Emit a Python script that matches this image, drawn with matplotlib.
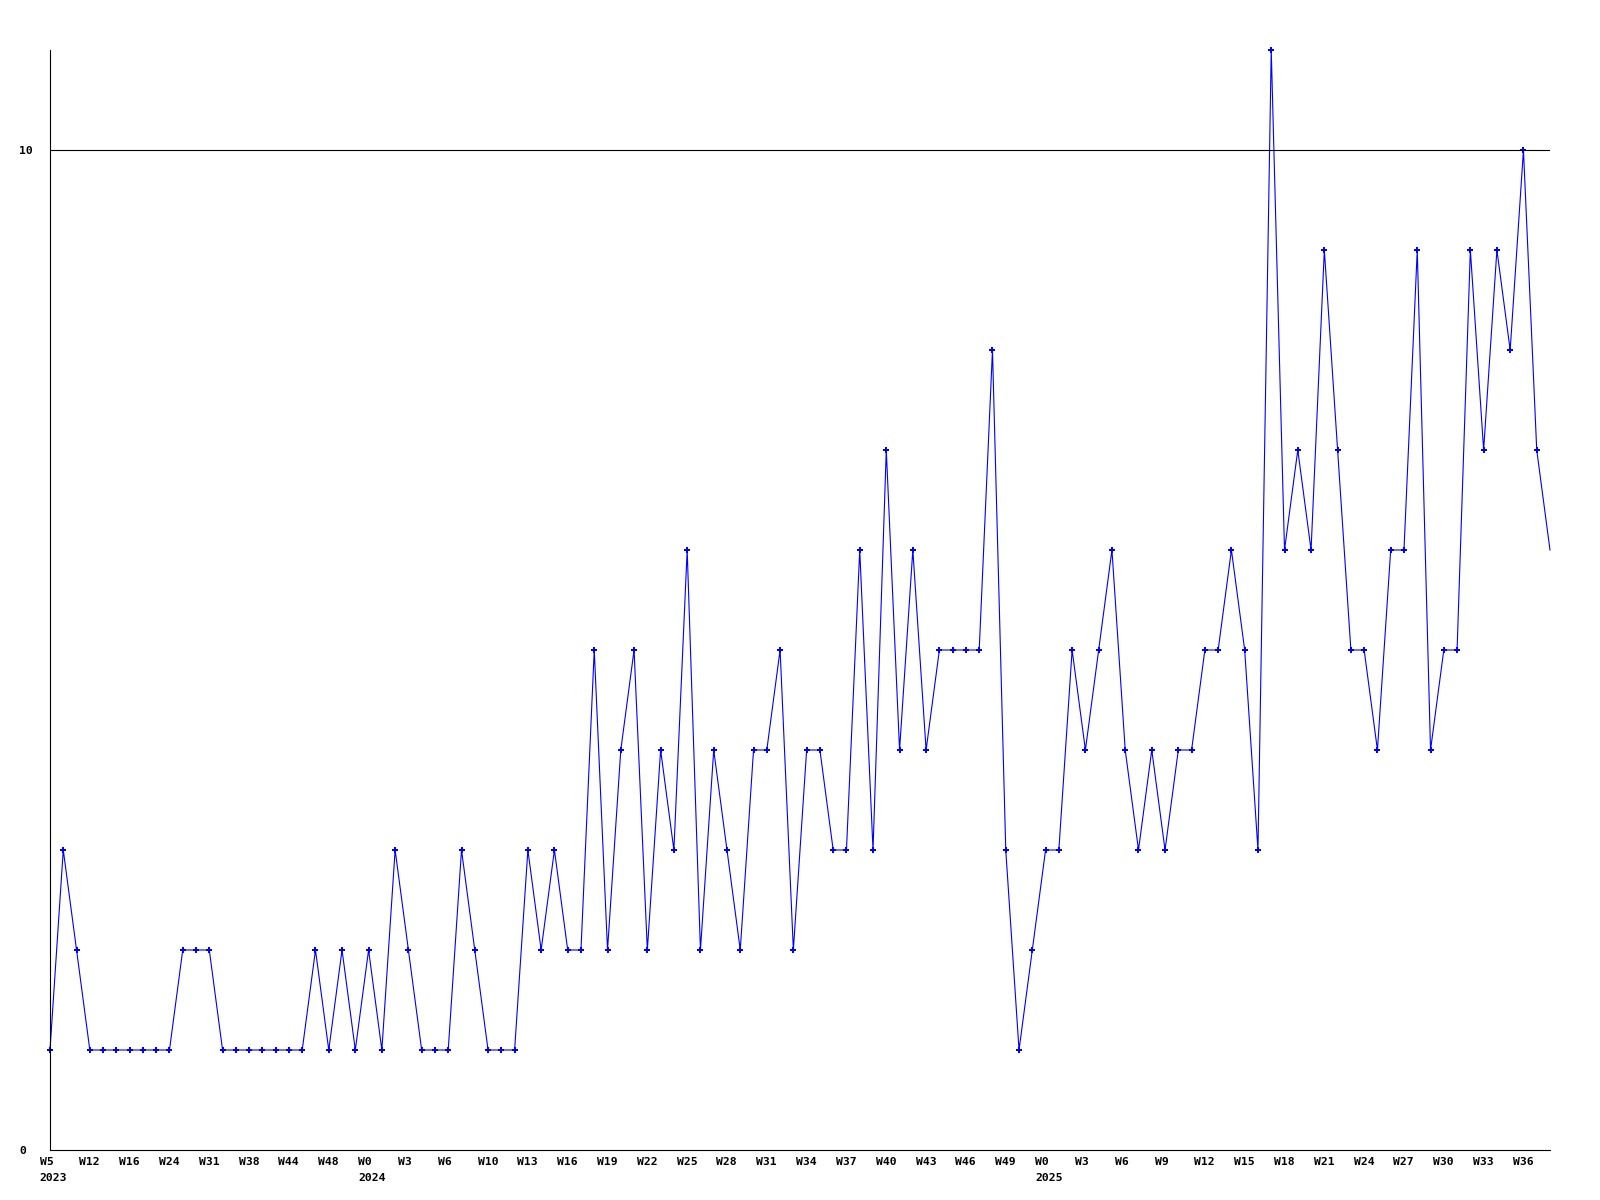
import numpy as np
import matplotlib
matplotlib.use("Agg")
import matplotlib.pyplot as plt
import matplotlib.transforms as mtransforms

values = [1, 3, 2, 1, 1, 1, 1, 1, 1, 1,
          2, 2, 2, 1, 1, 1, 1, 1, 1, 1,
          2, 1, 2, 1, 2, 1, 3, 2, 1, 1,
          1, 3, 2, 1, 1, 1, 3, 2, 3, 2,
          2, 5, 2, 4, 5, 2, 4, 3, 6, 2,
          4, 3, 2, 4, 4, 5, 2, 4, 4, 3,
          3, 6, 3, 7, 4, 6, 4, 5, 5, 5,
          5, 8, 3, 1, 2, 3, 3, 5, 4, 5,
          6, 4, 3, 4, 3, 4, 4, 5, 5, 6,
          5, 3, 11, 6, 7, 6, 9, 7, 5, 5,
          4, 6, 6, 9, 4, 5, 5, 9, 7, 9,
          8, 10, 7, 6]
week_labels = ["W5", "W12", "W16", "W24", "W31", "W38", "W44", "W48",
               "W0", "W3", "W6", "W10", "W13", "W16", "W19", "W22", "W25",
               "W28", "W31", "W34", "W37", "W40", "W43", "W46", "W49",
               "W0", "W3", "W6", "W9", "W12", "W15", "W18", "W21", "W24",
               "W27", "W30", "W33", "W36"]
years = ["2023", "2024", "2025"]
year_pos = [0, 24, 75]

x = np.arange(len(values))

fig = plt.figure(figsize=(16, 12), dpi=100)
ax = fig.add_axes([50/1600, 50/1200, 1500/1600, 1100/1200])

# last point sits on the right edge, no marker there
ax.plot(x, values, color='#0000ff', linewidth=0.8,
        marker='P', markersize=4, markeredgewidth=0,
        markevery=list(range(len(values) - 1)), clip_on=False)
ax.axhline(10, color='black', linewidth=0.8)

ax.set_xlim(0, len(values) - 1)
ax.set_ylim(0, 11)
ax.spines['top'].set_visible(False)
ax.spines['right'].set_visible(False)
ax.spines['left'].set_linewidth(0.8)
ax.spines['bottom'].set_linewidth(0.8)

font = dict(family='DejaVu Sans Mono', weight='bold', size=8.2)

ax.set_yticks([0, 10])
ax.set_yticklabels(['0', '10'], **font)
ax.tick_params(axis='y', length=0, pad=22)
for lab in ax.get_yticklabels():
    lab.set_horizontalalignment('left')

ax.set_xticks(x[::3][:len(week_labels)])
ax.set_xticklabels(week_labels, **font)
ax.tick_params(axis='x', length=0, pad=5)
shift = mtransforms.ScaledTranslation(-10.5/100, 0, fig.dpi_scale_trans)
for lab in ax.get_xticklabels():
    lab.set_horizontalalignment('left')
    lab.set_transform(lab.get_transform() + shift)

ytrans = mtransforms.blended_transform_factory(ax.transData, ax.transAxes)
for yr, p in zip(years, year_pos):
    off = mtransforms.ScaledTranslation(-10.5/100, -28/100, fig.dpi_scale_trans)
    ax.text(p, 0, yr, transform=ytrans + off, ha='left', va='center', **font)

fig.savefig('out.png', dpi=100)
